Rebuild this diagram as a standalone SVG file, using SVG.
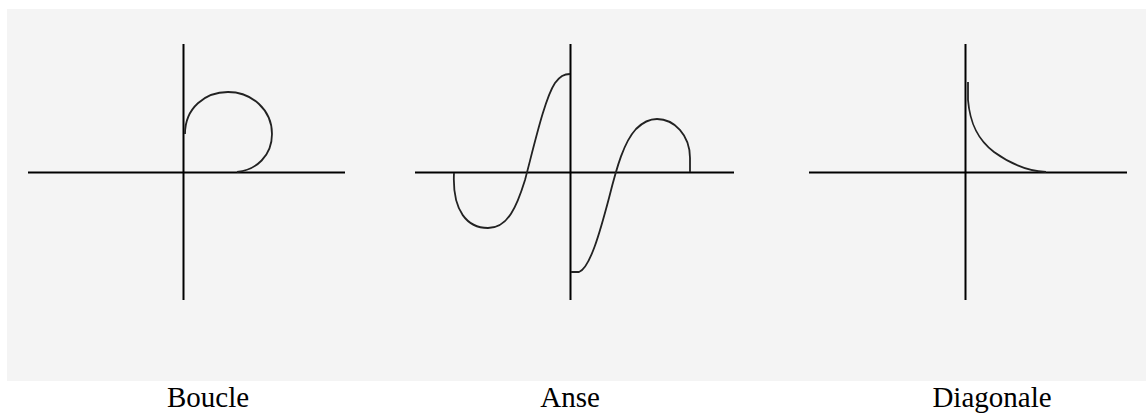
<svg xmlns="http://www.w3.org/2000/svg" width="1146" height="414" viewBox="0 0 1146 414">
<style>
.axis{stroke:#000;stroke-width:2;fill:none}
.curve{stroke:#222;stroke-width:1.8;fill:none}
.label{font-family:"Liberation Serif",serif;font-size:29px;fill:#000;text-anchor:middle}
</style>
<rect x="7" y="9" width="1139" height="372" fill="#f4f4f4"/>
<g id="boucle">
<line class="axis" x1="183.5" y1="44" x2="183.5" y2="300"/>
<line class="axis" x1="28" y1="172.5" x2="345" y2="172.5"/>
<path class="curve" d="M185,134 C185,108 205,92 228,92 C252,92 272,110 272,134 C272,156 256,170 237,172"/>
</g>
<g id="anse">
<line class="axis" x1="570.5" y1="44" x2="570.5" y2="300"/>
<line class="axis" x1="415" y1="172.5" x2="734" y2="172.5"/>
<path class="curve" d="M454,173 C452,212 468,228 488,228 C508,228 517,206 525,180 C535,142 545,98 555,83 C560,76 564,74 570,74"/>
<path class="curve" d="M571,272 L579,272 C590,268 600,232 609,198 C617,166 624,142 636,129 C644,121 650,119 657,119 C674,119 690,135 690,158 L690,172"/>
</g>
<g id="diagonale">
<line class="axis" x1="965.5" y1="44" x2="965.5" y2="300"/>
<line class="axis" x1="809" y1="172.5" x2="1127" y2="172.5"/>
<path class="curve" d="M968,82 L968,100 C970,124 978,140 994,152 C1012,165 1028,171 1046,172"/>
</g>
<text class="label" x="208" y="407">Boucle</text>
<text class="label" x="570" y="407">Anse</text>
<text class="label" x="992" y="407">Diagonale</text>
</svg>
